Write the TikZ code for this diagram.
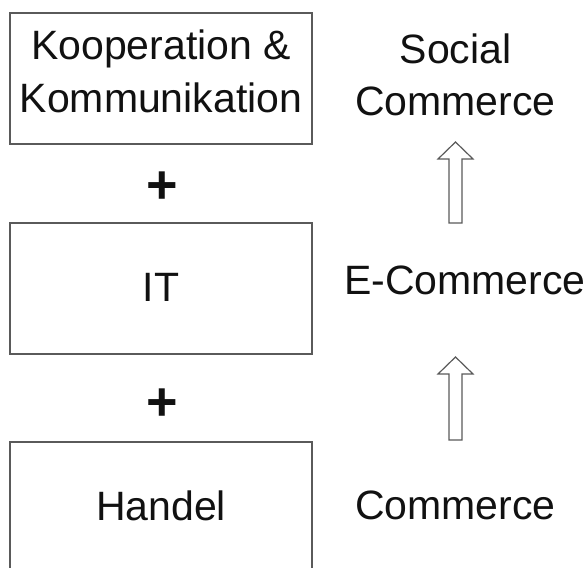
\documentclass[tikz,border=0pt]{standalone}
\usepackage{fontspec}
\setmainfont{Liberation Sans}
\definecolor{boxgray}{HTML}{5A5A5A}
\definecolor{txt}{HTML}{111111}
\begin{document}
\begin{tikzpicture}[x=1pt,y=-1pt,
  box/.style={draw=boxgray, line width=1.3pt, inner sep=0pt, fill=white},
  lbl/.style={font=\fontsize{41}{48}\selectfont, text=txt, anchor=base, inner sep=0pt},
  plus/.style={font=\fontsize{54}{60}\selectfont\bfseries, text=txt, inner sep=0pt},
  blockarrow/.style={draw=boxgray, line width=1.2pt, fill=white, line join=miter}]
\useasboundingbox (0,0) rectangle (588,567);
% boxes
\node[box, minimum width=302pt, minimum height=131pt] (kk) at (161,78.5) {};
\node[box, minimum width=302pt, minimum height=131pt] (it) at (161,288.5) {};
\node[box, minimum width=302pt, minimum height=150pt] (ha) at (161,517) {};
% box texts
\node[lbl] (t1) at (161,60) {Kooperation \&};
\node[lbl] (t2) at (161,112) {Kommunikation};
\node[lbl] (t3) at (161,301) {IT};
\node[lbl] (t4) at (161,520) {Handel};
% plus signs
\node[plus] (p1) at (162,188) {+};
\node[plus] (p2) at (162,405) {+};
% right texts
\node[lbl] (r1) at (455.5,64) {Social};
\node[lbl] (r2) at (455.5,115) {Commerce};
\node[lbl] (r3) at (465,294) {E-Commerce};
\node[lbl] (r4) at (455.5,519) {Commerce};
% hollow arrows
\draw[blockarrow] (455.5,142) -- (473,159) -- (462,159) -- (462,223) -- (449,223) -- (449,159) -- (438,159) -- cycle;
\draw[blockarrow] (455.5,357) -- (473,374) -- (462,374) -- (462,440) -- (449,440) -- (449,374) -- (438,374) -- cycle;
\end{tikzpicture}
\end{document}
